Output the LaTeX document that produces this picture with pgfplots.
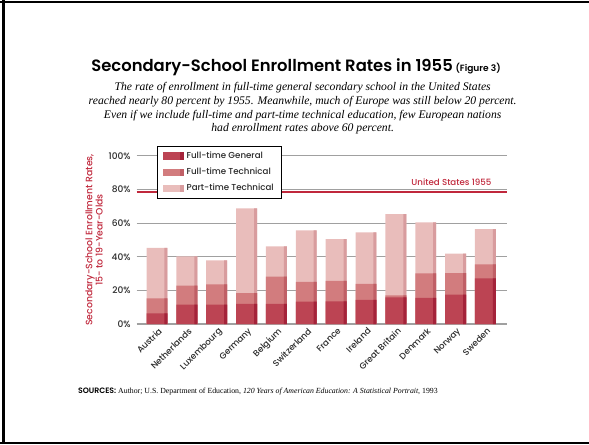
\documentclass[border=0pt]{standalone}
\usepackage{fontspec}
\setmainfont{Liberation Serif}
\newfontfamily\sans{Poppins Medium}
\newfontfamily\titlefont{Poppins SemiBold}
\usepackage{pgfplots}
\pgfplotsset{compat=1.18}
\usepackage{pgfplotstable}

\definecolor{fg}{HTML}{BC4453}
\definecolor{ft}{HTML}{D27C7E}
\definecolor{pt}{HTML}{E9BDBB}
\definecolor{fgd}{HTML}{A4233A}
\definecolor{ftd}{HTML}{C05F66}
\definecolor{ptd}{HTML}{D89C9E}
\definecolor{usred}{HTML}{C0283C}
\definecolor{gridc}{HTML}{A0A0A0}
\definecolor{txt}{HTML}{2A2A2A}

% cumulative tops of each segment (percent)
\pgfplotstableread{
x fgtop fttop pttop
0  6.3 15.2 45.3
1 11.5 22.8 40.2
2 11.5 23.6 37.8
3 12.0 18.4 68.7
4 12.0 28.1 46.1
5 13.3 25.0 55.6
6 13.5 25.7 50.5
7 14.3 23.8 54.5
8 15.8 17.0 65.3
9 15.6 30.1 60.4
10 17.4 30.3 41.8
11 27.1 35.4 56.4
}\data

\begin{document}
\begin{tikzpicture}
\path[use as bounding box] (0,0) rectangle (441.75pt,333pt);
% frame
\draw[line width=2.2pt] (2.4pt,0) -- (2.4pt,333pt);
\draw[line width=1.4pt] (0,331.4pt) -- (441.75pt,331.4pt);
\draw[line width=1.4pt] (0,0.9pt) -- (441.75pt,0.9pt);

\node[anchor=center] at (222pt,282.3pt) {\titlefont\fontsize{12.3}{14}\selectfont Secondary-School Enrollment Rates in 1955\,{\fontsize{6.8}{7}\selectfont (Figure 3)}};

\node[align=center,anchor=center,font=\itshape\fontsize{8.75}{10.2}\selectfont] at (227pt,251.6pt) {The rate of enrollment in full-time general secondary school in the United States\\
reached nearly 80 percent by 1955. Meanwhile, much of Europe was still below 20 percent.\\
Even if we include full-time and part-time technical education, few European nations\\
had enrollment rates above 60 percent.};

\node[anchor=west] at (55pt,39.2pt) {\fontsize{5.85}{6.5}\selectfont{\titlefont SOURCES:} Author; U.S. Department of Education, \textit{120 Years of American Education: A Statistical Portrait}, 1993};

\begin{axis}[
  at={(102.5pt,90pt)}, anchor=south west,
  scale only axis, width=277.7pt, height=126.2pt,
  xmin=-0.68, xmax=11.72, ymin=0, ymax=100,
  axis line style={draw=none},
  major tick length=0pt,
  ymajorgrids, grid style={gridc, line width=0.8pt},
  ytick={0,20,40,60,80,100},
  yticklabels={0\%,20\%,40\%,60\%,80\%,100\%},
  yticklabel style={font=\sans\fontsize{6.8}{7}\selectfont, text=txt, xshift=-1pt},
  xtick={0,...,11},
  xticklabels={Austria,Netherlands,Luxembourg,Germany,Belgium,Switzerland,France,Ireland,Great Britain,Denmark,Norway,Sweden},
  xticklabel style={font=\sans\fontsize{6.5}{7}\selectfont, text=txt, rotate=45, anchor=north east, inner sep=1pt, yshift=-1pt},
  ylabel={Secondary-School Enrollment Rates,\\15- to 19-Year-Olds},
  ylabel style={at={(axis description cs:-0.115,0.5)}, anchor=center, align=center, text=usred, font=\sans\fontsize{7}{7.6}\selectfont},
  clip=false,
  legend style={at={(0.055,1.058)}, anchor=north west, draw=black, line width=0.8pt, fill=white,
    font=\sans\fontsize{6.5}{7}\selectfont, text=txt, row sep=1.6pt, inner xsep=4pt, inner ysep=2pt, cells={anchor=west}},
  legend cell align=left,
]
\addlegendimage{legend image code/.code={\fill[fg] (0pt,-2.4pt) rectangle (13pt,2.4pt); \fill[fgd] (13pt,-2.4pt) rectangle (15pt,2.4pt);}}
\addlegendentry{Full-time General}
\addlegendimage{legend image code/.code={\fill[ft] (0pt,-2.4pt) rectangle (13pt,2.4pt); \fill[ftd] (13pt,-2.4pt) rectangle (15pt,2.4pt);}}
\addlegendentry{Full-time Technical}
\addlegendimage{legend image code/.code={\fill[pt] (0pt,-2.4pt) rectangle (13pt,2.4pt); \fill[ptd] (13pt,-2.4pt) rectangle (15pt,2.4pt);}}
\addlegendentry{Part-time Technical}

\addplot[ybar, bar width=0.7, bar shift=0, fill=pt, draw=none, forget plot] table[x=x,y=pttop]{\data};
\addplot[ybar, bar width=0.1, bar shift=0.3, fill=ptd, draw=none, forget plot] table[x=x,y=pttop]{\data};
\addplot[ybar, bar width=0.7, bar shift=0, fill=ft, draw=none, forget plot] table[x=x,y=fttop]{\data};
\addplot[ybar, bar width=0.1, bar shift=0.3, fill=ftd, draw=none, forget plot] table[x=x,y=fttop]{\data};
\addplot[ybar, bar width=0.7, bar shift=0, fill=fg, draw=none, forget plot] table[x=x,y=fgtop]{\data};
\addplot[ybar, bar width=0.1, bar shift=0.3, fill=fgd, draw=none, forget plot] table[x=x,y=fgtop]{\data};

\addplot[usred, line width=1.5pt, forget plot] coordinates {(-0.68,78.3) (11.72,78.3)};
\node[anchor=base east, text=usred, font=\sans\fontsize{6.5}{7}\selectfont, inner sep=0pt] at (axis cs:11.21,82.2) {United States 1955};
\end{axis}
\end{tikzpicture}
\end{document}
